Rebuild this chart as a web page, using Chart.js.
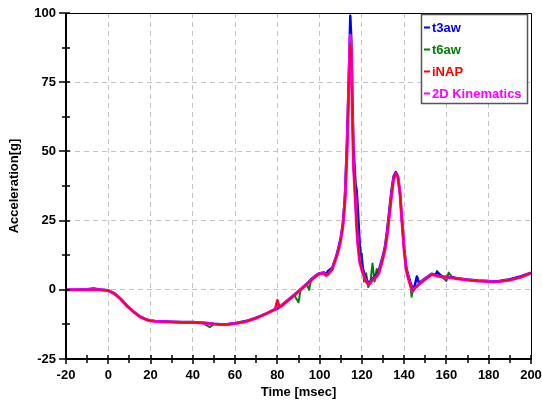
<!DOCTYPE html>
<html>
<head>
<meta charset="utf-8">
<script src="https://cdn.jsdelivr.net/npm/chart.js@4/dist/chart.umd.min.js"></script>
<style>
  html, body { margin: 0; padding: 0; background: #fff; }
  #wrap { width: 542px; height: 400px; }
</style>
</head>
<body>
<div id="wrap"><canvas id="chartAccel" width="542" height="400"></canvas></div>
<script>
// Time samples [msec], shared by all four traces
const timeMs = [
  -20, -15, -10, -7, -4, 0, 3, 6, 9, 12,
  15, 18, 20, 22, 25, 30, 35, 40, 45, 48,
  50, 55, 60, 65, 70, 75, 78, 79, 80, 81,
  82, 85, 88, 90, 91, 92, 94, 95, 96, 98,
  100, 102, 103, 104, 106, 108, 109, 110, 111, 112,
  113, 114, 114.5, 115, 115.5, 116, 117, 117.5, 118, 119,
  120, 121, 122, 123, 124, 125, 126, 127, 128, 130,
  131, 132, 133, 134, 135, 136, 137, 138, 139, 140,
  141, 142, 143, 143.5, 144, 145, 146, 147, 150, 153,
  155, 155.5, 158, 160, 161, 163, 165, 170, 175, 180,
  182, 185, 190, 195, 200
];

// Acceleration [g]
const t3aw = [
  0, 0, 0.2, 0.5, 0.1, -0.2, -1.3, -3.3, -5.8, -7.9,
  -9.6, -10.7, -11.1, -11.3, -11.4, -11.5, -11.6, -11.6, -11.9, -12.1,
  -12.3, -12.5, -12.1, -11.3, -10.1, -8.5, -7.3, -7.0, -6.8, -6.2,
  -5.6, -3.7, -1.8, -0.4, 0.2, 0.9, 2.2, 3.0, 3.8, 5.1,
  6.0, 6.3, 5.6, 6.8, 8.0, 12.5, 15.5, 19, 24, 34,
  55, 82, 99, 90, 70, 52, 38, 36, 30, 16,
  9, 6, 4, 2.5, 3.0, 4.0, 4.8, 5.5, 7.0, 12.5,
  16, 22, 29, 36, 41, 42.5, 41, 35, 25, 15,
  8, 5, 2.5, 1.5, 0.5, 1.5, 4.8, 2.5, 4.2, 5.8,
  5.4, 6.3, 4.8, 4.7, 4.6, 4.5, 4.2, 3.7, 3.4, 3.2,
  3.0, 3.2, 3.8, 4.8, 6.2
];

const t6aw = [
  0, 0, 0, 0.1, 0, -0.3, -1.5, -3.5, -6, -8,
  -9.8, -10.8, -11.2, -11.4, -11.5, -11.6, -11.9, -11.8, -12.1, -13.5,
  -12.4, -12.7, -12.3, -11.6, -10.3, -8.6, -7.4, -7.1, -7.0, -6.3,
  -5.8, -3.9, -2.0, -4.5, 0, 0.7, 2.0, 0, 3.5, 4.8,
  5.8, 6.0, 5.2, 5.6, 7.5, 12, 14.5, 18, 23, 32,
  50, 78, 90, 86, 63, 45, 31, 23, 17, 10,
  13, 3, 6, 1, 2.5, 9.5, 3, 7.5, 6, 11.5,
  15, 20, 27, 34, 40, 42, 41, 35, 24, 14,
  7, 4, 1.5, -2.5, -0.5, 0.5, 1.2, 2, 3.8, 5.5,
  5.2, 6.8, 4.6, 3.2, 6.2, 4.3, 4.0, 3.5, 3.2, 3.0,
  2.9, 3.0, 3.5, 4.5, 6.0
];

const iNAP = [
  0, 0, 0, 0.1, 0, -0.3, -1.5, -3.5, -6, -8,
  -9.8, -10.8, -11.2, -11.4, -11.5, -11.6, -11.8, -11.8, -12, -12.2,
  -12.4, -12.6, -12.2, -11.5, -10.2, -8.5, -7.4, -7.1, -3.5, -6.3,
  -5.8, -3.9, -2.0, -0.6, 0, 0.7, 2.0, 2.8, 3.5, 4.8,
  5.8, 6.0, 5.2, 5.6, 7.5, 12, 14.5, 18, 23, 32,
  50, 78, 89, 85, 62, 44, 30, 23, 17, 10,
  7, 5, 3, 2, 2.5, 3.5, 4.2, 4.8, 6, 11.5,
  15, 20, 27, 34, 40, 42, 41, 35, 24, 14,
  7, 4, 1.5, 0.5, -0.5, 0.5, 1.2, 2, 3.8, 5.5,
  5.2, 5.0, 4.6, 4.5, 4.4, 4.3, 4.0, 3.5, 3.2, 3.0,
  2.9, 3.0, 3.5, 4.5, 6.0
];

const kin2D = [
  0, 0, 0, 0.1, 0, -0.3, -1.5, -3.5, -6, -8,
  -9.8, -10.8, -11.2, -11.4, -11.5, -11.6, -11.8, -11.8, -12, -12.2,
  -12.4, -12.6, -12.2, -11.5, -10.2, -8.5, -7.4, -7.1, -4.0, -6.3,
  -5.8, -3.9, -2.0, -0.6, 0, 0.7, 2.0, 2.8, 3.5, 4.8,
  5.8, 6.0, 5.2, 5.6, 7.5, 12, 14.5, 18, 23, 32,
  51, 80, 92, 86, 63, 45, 31, 23, 17, 10,
  7, 5, 3, 2, 2.5, 3.5, 4.2, 4.8, 6, 11.5,
  15, 20, 27, 34, 40, 42, 41, 35, 24, 14,
  7, 4, 1.5, 0.5, -0.5, 0.5, 1.2, 2, 3.8, 5.5,
  5.2, 5.0, 4.6, 4.5, 4.4, 4.3, 4.0, 3.5, 3.2, 3.0,
  2.9, 3.0, 3.5, 4.5, 6.0
];

const seriesNames = ["t3aw", "t6aw", "iNAP", "2D Kinematics"];
const seriesColors = ["#0000ff", "#008000", "#ff0000", "#ff00ff"];

const FONT = "'Liberation Sans', Arial, sans-serif";

function toPoints(vals) {
  return timeMs.map((t, i) => ({ x: t, y: vals[i] }));
}

// drop the label overhang so the plot box is set by layout.padding only
function noOverhang(scale) {
  scale.paddingTop = 0;
  scale.paddingBottom = 0;
  scale.paddingLeft = 0;
  scale.paddingRight = 0;
}

// frame, inner/outer tick marks and the boxed legend
const framePlugin = {
  id: "frame",
  afterDraw(chart) {
    const ctx = chart.ctx;
    const a = chart.chartArea;
    const xs = chart.scales.x;
    const ys = chart.scales.y;
    ctx.save();

    // thin top/right border
    ctx.strokeStyle = "#000";
    ctx.lineWidth = 1;
    ctx.beginPath();
    ctx.moveTo(a.left, a.top + 0.5);
    ctx.lineTo(a.right + 0.5, a.top + 0.5);
    ctx.lineTo(a.right + 0.5, a.bottom);
    ctx.stroke();

    // thick left/bottom axes
    ctx.lineWidth = 2;
    ctx.beginPath();
    ctx.moveTo(a.left, a.top);
    ctx.lineTo(a.left, a.bottom);
    ctx.lineTo(a.right + 1, a.bottom);
    ctx.stroke();

    // x ticks: major every 20, minor every 10
    ctx.lineWidth = 1.5;
    for (let v = -20; v <= 200; v += 10) {
      const px = Math.round(xs.getPixelForValue(v));
      const major = v % 20 === 0;
      ctx.beginPath();
      ctx.moveTo(px, a.bottom - 4);
      ctx.lineTo(px, a.bottom + (major ? 5 : 4));
      ctx.stroke();
    }
    // y ticks: major every 25, minor every 12.5
    for (let v = -25; v <= 100; v += 12.5) {
      const py = Math.round(ys.getPixelForValue(v));
      const major = v % 25 === 0;
      ctx.beginPath();
      ctx.moveTo(a.left - (major ? 7 : 4), py);
      ctx.lineTo(a.left + 4, py);
      ctx.stroke();
    }

    // legend box
    const bx = 421.5, by = 14.5, bw = 106, bh = 89;
    ctx.fillStyle = "#fff";
    ctx.fillRect(bx, by, bw, bh);
    ctx.strokeStyle = "#555";
    ctx.lineWidth = 1.5;
    ctx.strokeRect(bx, by, bw, bh);
    ctx.font = "bold 13px " + FONT;
    ctx.textBaseline = "middle";
    ctx.textAlign = "left";
    seriesNames.forEach((name, i) => {
      const cy = 27.5 + i * 22;
      ctx.strokeStyle = seriesColors[i];
      ctx.lineWidth = 2;
      ctx.beginPath();
      ctx.moveTo(424, cy);
      ctx.lineTo(430, cy);
      ctx.stroke();
      ctx.fillStyle = seriesColors[i];
      ctx.fillText(name, 432, cy + 0.5);
    });
    ctx.restore();
  }
};

new Chart(document.getElementById("chartAccel"), {
  type: "line",
  data: {
    datasets: [
      { label: seriesNames[0], data: toPoints(t3aw), borderColor: seriesColors[0], borderWidth: 2.5, order: 2 },
      { label: seriesNames[1], data: toPoints(t6aw), borderColor: seriesColors[1], borderWidth: 2, order: 3 },
      { label: seriesNames[2], data: toPoints(iNAP), borderColor: seriesColors[2], borderWidth: 1.5, order: 0 },
      { label: seriesNames[3], data: toPoints(kin2D), borderColor: seriesColors[3], borderWidth: 3, order: 1 }
    ]
  },
  options: {
    responsive: false,
    animation: false,
    events: [],
    parsing: false,
    elements: {
      point: { radius: 0 },
      line: { tension: 0, fill: false, borderJoinStyle: "round" }
    },
    layout: { padding: { top: 13, right: 11, left: 0, bottom: 0 } },
    plugins: {
      legend: { display: false },
      tooltip: { enabled: false }
    },
    scales: {
      x: {
        type: "linear",
        min: -20,
        max: 200,
        afterFit(scale) { scale.height = 41; noOverhang(scale); },
        ticks: {
          stepSize: 20,
          padding: 9,
          color: "#000",
          font: { family: FONT, size: 13, weight: "bold" },
          maxRotation: 0
        },
        grid: { color: "#c4c4c4", lineWidth: 1, drawTicks: false },
        border: { display: false, dash: [5, 4] },
        title: {
          display: true,
          text: "Time [msec]",
          color: "#000",
          font: { family: FONT, size: 13, weight: "bold" },
          padding: { top: 0, bottom: 0 }
        }
      },
      y: {
        type: "linear",
        min: -25,
        max: 100,
        afterFit(scale) { scale.width = 66; noOverhang(scale); },
        ticks: {
          stepSize: 25,
          padding: 10,
          color: "#000",
          font: { family: FONT, size: 13, weight: "bold" }
        },
        grid: { color: "#c4c4c4", lineWidth: 1, drawTicks: false },
        border: { display: false, dash: [5, 4] },
        title: {
          display: true,
          text: "Acceleration[g]",
          color: "#000",
          font: { family: FONT, size: 13, weight: "bold" },
          padding: { top: 7, bottom: 0 }
        }
      }
    }
  },
  plugins: [framePlugin]
});
</script>
</body>
</html>
